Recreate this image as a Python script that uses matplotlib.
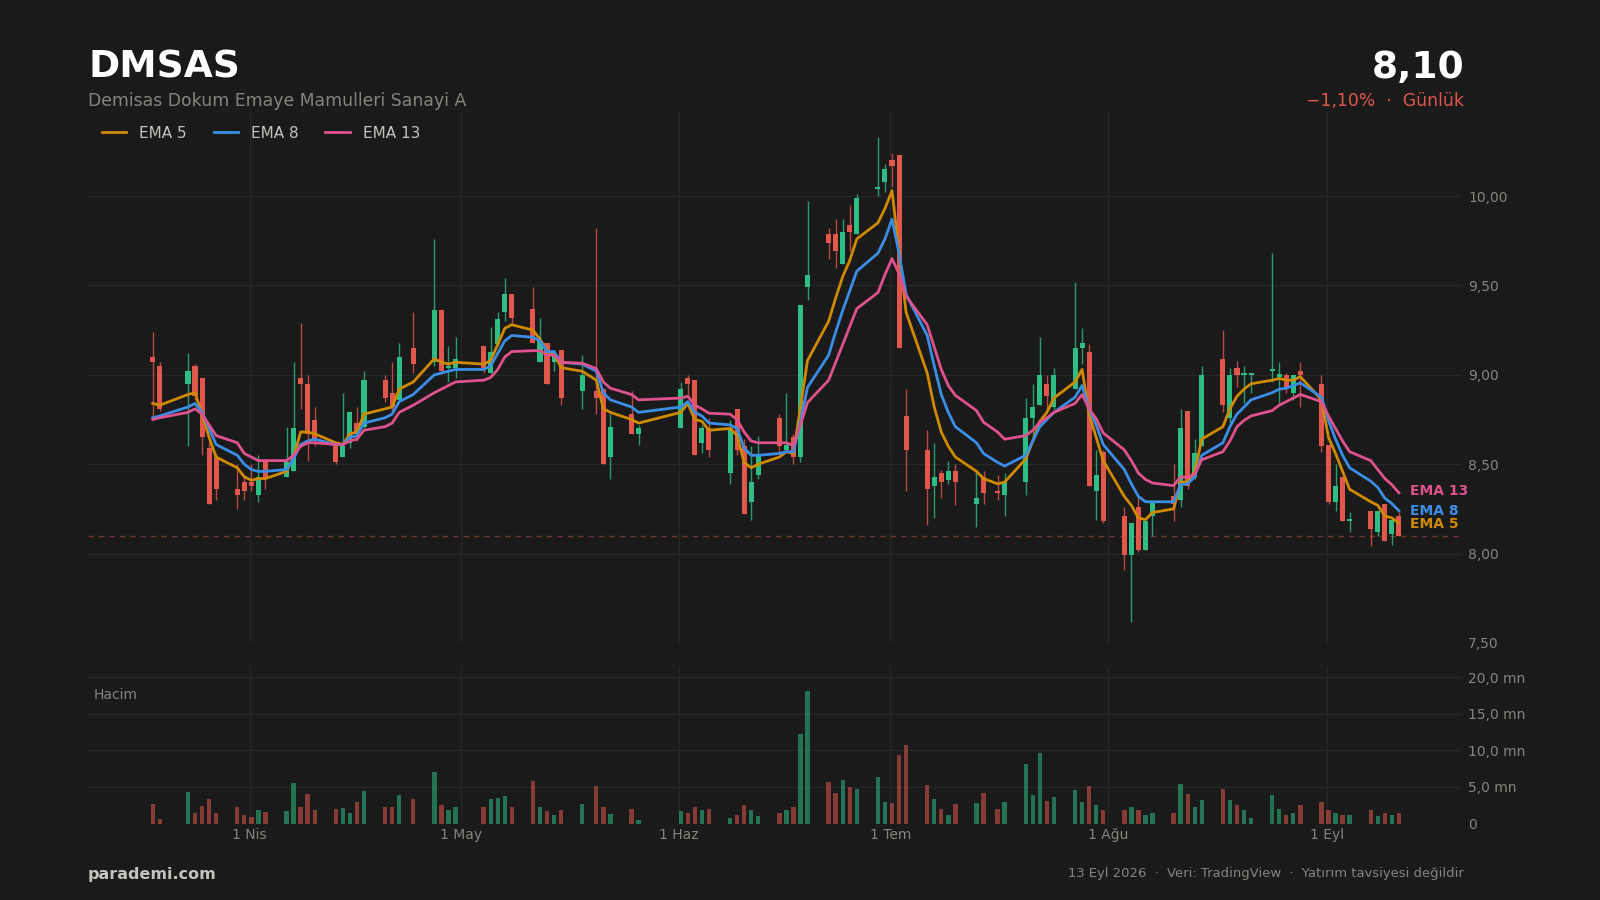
import datetime as dt
import matplotlib
matplotlib.use("Agg")
import matplotlib.pyplot as plt
import matplotlib.dates as mdates

DATES = """2026-03-18 2026-03-19 2026-03-23 2026-03-24 2026-03-25 2026-03-26 2026-03-27 2026-03-30 2026-03-31 2026-04-01
2026-04-02 2026-04-03 2026-04-06 2026-04-07 2026-04-08 2026-04-09 2026-04-10 2026-04-13 2026-04-14 2026-04-15
2026-04-16 2026-04-17 2026-04-20 2026-04-21 2026-04-22 2026-04-24 2026-04-27 2026-04-28 2026-04-29 2026-04-30
2026-05-04 2026-05-05 2026-05-06 2026-05-07 2026-05-08 2026-05-11 2026-05-12 2026-05-13 2026-05-14 2026-05-15
2026-05-18 2026-05-20 2026-05-21 2026-05-22 2026-05-25 2026-05-26 2026-06-01 2026-06-02 2026-06-03 2026-06-04
2026-06-05 2026-06-08 2026-06-09 2026-06-10 2026-06-11 2026-06-12 2026-06-15 2026-06-16 2026-06-17 2026-06-18
2026-06-19 2026-06-22 2026-06-23 2026-06-24 2026-06-25 2026-06-26 2026-06-29 2026-06-30 2026-07-01 2026-07-02
2026-07-03 2026-07-06 2026-07-07 2026-07-08 2026-07-09 2026-07-10 2026-07-13 2026-07-14 2026-07-16 2026-07-17
2026-07-20 2026-07-21 2026-07-22 2026-07-23 2026-07-24 2026-07-27 2026-07-28 2026-07-29 2026-07-30 2026-07-31
2026-08-03 2026-08-04 2026-08-05 2026-08-06 2026-08-07 2026-08-10 2026-08-11 2026-08-12 2026-08-13 2026-08-14
2026-08-17 2026-08-18 2026-08-19 2026-08-20 2026-08-21 2026-08-24 2026-08-25 2026-08-26 2026-08-27 2026-08-28
2026-08-31 2026-09-01 2026-09-02 2026-09-03 2026-09-04 2026-09-07 2026-09-08 2026-09-09 2026-09-10 2026-09-11""".split()

OPEN = [9.10,9.05,8.95,9.05,8.98,8.59,8.54,8.36,8.40,8.40,
        8.33,8.52,8.43,8.46,8.98,8.95,8.75,8.61,8.54,8.62,
        8.73,8.71,8.97,8.90,8.86,9.15,9.07,9.36,9.04,9.04,
        9.16,9.01,9.17,9.35,9.45,9.37,9.07,9.18,9.07,9.14,
        8.91,8.91,8.92,8.54,8.78,8.67,8.70,8.98,8.97,8.62,
        8.70,8.45,8.81,8.60,8.29,8.44,8.76,8.58,8.65,8.54,
        9.49,9.79,9.79,9.62,9.84,9.79,10.04,10.08,10.20,10.23,
        8.77,8.58,8.38,8.45,8.41,8.46,8.28,8.43,8.35,8.33,
        8.40,8.76,8.83,8.95,8.82,8.92,9.15,9.13,8.35,8.57,
        8.21,7.99,8.26,8.02,8.21,8.32,8.30,8.80,8.43,8.60,
        9.09,8.76,9.04,9.00,9.00,9.02,8.99,9.00,8.90,9.02,
        8.95,8.61,8.29,8.43,8.18,8.24,8.12,8.28,8.11,8.21]
HIGH = [9.24,9.07,9.12,9.06,8.98,8.63,8.56,8.50,8.43,8.50,
        8.55,8.52,8.71,9.07,9.29,9.00,8.82,8.62,8.90,8.80,
        8.82,9.02,9.00,9.07,9.18,9.35,9.76,9.37,9.16,9.21,
        9.16,9.27,9.35,9.54,9.45,9.49,9.32,9.18,9.14,9.14,
        9.11,9.82,8.92,8.78,8.91,8.72,8.96,9.00,8.97,8.72,
        8.76,8.75,8.81,8.64,8.60,8.66,8.78,8.90,8.67,9.39,
        9.97,9.82,9.87,9.87,9.95,10.01,10.33,10.18,10.24,10.23,
        8.92,8.69,8.62,8.47,8.52,8.50,8.47,8.46,8.44,8.45,
        8.87,8.95,9.21,9.00,9.04,9.52,9.26,9.17,8.58,8.58,
        8.26,8.17,8.32,8.18,8.29,8.50,8.81,8.80,8.64,9.05,
        9.25,9.04,9.08,9.05,9.01,9.68,9.07,9.01,9.00,9.07,
        9.00,8.61,8.50,8.45,8.23,8.24,8.24,8.28,8.19,8.23]
LOW = [8.75,8.80,8.60,8.86,8.55,8.28,8.30,8.25,8.30,8.35,
       8.29,8.36,8.43,8.46,8.81,8.52,8.60,8.50,8.54,8.59,
       8.63,8.70,8.85,8.80,8.85,9.01,9.05,9.02,8.96,8.98,
       9.01,9.01,9.16,9.30,9.28,9.18,9.07,8.95,9.02,8.83,
       8.81,8.78,8.50,8.42,8.67,8.61,8.70,8.87,8.55,8.56,
       8.54,8.39,8.55,8.22,8.19,8.42,8.57,8.58,8.50,8.51,
       9.42,9.65,9.60,9.62,9.69,9.79,10.00,10.02,10.05,9.15,
       8.35,8.16,8.20,8.31,8.39,8.27,8.15,8.28,8.30,8.21,
       8.33,8.65,8.83,8.81,8.81,8.92,9.06,8.38,8.19,8.17,
       7.91,7.62,8.01,8.02,8.10,8.18,8.26,8.36,8.42,8.60,
       8.79,8.73,8.93,8.84,8.90,8.96,8.84,8.90,8.86,8.82,
       8.57,8.28,8.24,8.18,8.12,8.04,8.10,8.07,8.05,8.10]
CLOSE = [9.07,8.81,9.02,8.88,8.65,8.28,8.36,8.33,8.35,8.38,
         8.43,8.42,8.51,8.70,8.95,8.67,8.63,8.51,8.60,8.79,
         8.67,8.97,8.87,8.82,9.10,9.06,9.36,9.02,9.05,9.09,
         9.04,9.13,9.31,9.45,9.32,9.18,9.19,8.95,9.11,8.87,
         9.00,8.87,8.50,8.71,8.67,8.70,8.92,8.95,8.55,8.70,
         8.58,8.70,8.58,8.22,8.40,8.55,8.60,8.61,8.54,9.39,
         9.56,9.74,9.69,9.80,9.80,9.99,10.05,10.15,10.17,9.15,
         8.58,8.36,8.43,8.40,8.46,8.40,8.31,8.34,8.34,8.40,
         8.76,8.82,9.00,8.88,9.00,9.15,9.18,8.38,8.44,8.18,
         7.99,8.17,8.02,8.18,8.29,8.28,8.70,8.38,8.56,9.00,
         8.83,9.00,9.00,9.00,9.01,9.03,9.00,8.93,9.00,9.00,
         8.60,8.29,8.38,8.18,8.19,8.14,8.24,8.07,8.19,8.10]
VOLUME = [2.6,0.6,4.3,1.4,2.4,3.3,1.4,2.2,1.1,0.9,
          1.9,1.6,1.7,5.5,2.3,4.1,1.8,2.0,2.1,1.5,
          2.9,4.5,2.2,2.3,3.9,3.3,7.1,2.5,1.9,2.3,
          2.2,3.3,3.5,3.7,2.2,5.8,2.2,1.7,1.2,1.8,
          2.7,5.1,2.3,1.3,2.0,0.45,1.7,1.5,2.3,1.9,
          2.0,0.8,1.2,2.5,1.8,1.0,1.5,1.9,2.3,12.3,
          18.1,5.7,4.2,6.0,5.0,4.7,6.4,2.9,2.8,9.4,
          10.8,5.2,3.4,2.0,1.1,2.6,2.8,4.2,2.0,3.0,
          8.1,3.9,9.7,3.1,3.6,4.6,2.9,5.1,2.5,1.8,
          1.9,2.3,1.9,1.1,1.4,1.5,5.4,4.0,2.2,3.2,
          4.7,3.2,2.5,1.8,0.7,3.9,2.0,1.2,1.4,2.5,
          2.9,1.8,1.5,1.1,1.1,1.8,1.0,1.5,1.1,1.5]
EMA5 = [8.84,8.83,8.89,8.90,8.78,8.65,8.54,8.48,8.43,8.41,
        8.42,8.42,8.46,8.54,8.68,8.68,8.67,8.62,8.61,8.67,
        8.68,8.78,8.81,8.82,8.92,8.96,9.09,9.07,9.06,9.07,
        9.06,9.08,9.17,9.26,9.28,9.25,9.20,9.13,9.12,9.04,
        9.02,8.97,8.81,8.79,8.75,8.73,8.79,8.84,8.75,8.74,
        8.69,8.70,8.66,8.51,8.48,8.50,8.54,8.57,8.56,8.82,
        9.08,9.30,9.43,9.55,9.64,9.76,9.85,9.93,10.03,9.69,
        9.35,9.01,8.82,8.68,8.60,8.54,8.46,8.42,8.39,8.40,
        8.53,8.63,8.74,8.79,8.87,8.96,9.03,8.78,8.65,8.52,
        8.32,8.27,8.20,8.19,8.23,8.25,8.40,8.40,8.46,8.64,
        8.71,8.81,8.88,8.92,8.95,8.97,8.98,8.97,8.97,8.99,
        8.86,8.65,8.56,8.46,8.36,8.29,8.27,8.21,8.20,8.17]
EMA8 = [8.76,8.77,8.82,8.84,8.79,8.70,8.61,8.55,8.50,8.47,
        8.46,8.46,8.47,8.53,8.61,8.63,8.64,8.61,8.61,8.65,
        8.66,8.73,8.76,8.78,8.85,8.89,9.00,9.01,9.02,9.03,
        9.03,9.05,9.12,9.19,9.22,9.21,9.19,9.13,9.13,9.07,
        9.06,9.02,8.90,8.86,8.82,8.79,8.82,8.85,8.79,8.77,
        8.73,8.72,8.70,8.59,8.55,8.55,8.56,8.57,8.57,8.74,
        8.93,9.11,9.24,9.36,9.47,9.58,9.68,9.76,9.87,9.68,
        9.45,9.22,9.05,8.89,8.79,8.71,8.62,8.56,8.51,8.49,
        8.55,8.63,8.71,8.75,8.79,8.875,8.94,8.81,8.72,8.61,
        8.47,8.39,8.32,8.29,8.29,8.29,8.385,8.39,8.43,8.55,
        8.62,8.71,8.78,8.82,8.86,8.90,8.92,8.925,8.94,8.955,
        8.875,8.745,8.64,8.55,8.48,8.405,8.37,8.31,8.28,8.24]
EMA13 = [8.75,8.76,8.79,8.81,8.78,8.72,8.66,8.62,8.56,8.54,
         8.52,8.52,8.52,8.55,8.60,8.62,8.62,8.61,8.61,8.63,
         8.64,8.69,8.71,8.73,8.79,8.83,8.90,8.92,8.94,8.96,
         8.97,8.985,9.03,9.10,9.13,9.135,9.135,9.11,9.11,9.07,
         9.065,9.035,8.96,8.925,8.89,8.86,8.87,8.88,8.83,8.81,
         8.785,8.78,8.75,8.68,8.63,8.62,8.62,8.62,8.605,8.72,
         8.845,8.97,9.07,9.17,9.27,9.37,9.46,9.56,9.65,9.565,
         9.44,9.28,9.155,9.03,8.94,8.885,8.80,8.735,8.68,8.64,
         8.66,8.69,8.735,8.76,8.79,8.84,8.89,8.81,8.755,8.675,
         8.58,8.52,8.45,8.415,8.395,8.38,8.43,8.425,8.445,8.525,
         8.57,8.63,8.71,8.745,8.77,8.80,8.83,8.85,8.87,8.89,
         8.85,8.77,8.70,8.63,8.57,8.52,8.47,8.42,8.385,8.34]

EMA_NAMES = ["EMA 5", "EMA 8", "EMA 13"]
LAST_PRICE = 8.10
PRICE_TICKS = [7.5, 8.0, 8.5, 9.0, 9.5, 10.0]
PRICE_LABELS = ["7,50", "8,00", "8,50", "9,00", "9,50", "10,00"]
VOLUME_TICKS = [0, 5, 10, 15, 20]
VOLUME_LABELS = ["0", "5,0 mn", "10,0 mn", "15,0 mn", "20,0 mn"]
MONTH_TICKS = ["2026-04-01", "2026-05-01", "2026-06-01", "2026-07-01", "2026-08-01", "2026-09-01"]
MONTH_LABELS = ["1 Nis", "1 May", "1 Haz", "1 Tem", "1 Ağu", "1 Eyl"]

BG = "#1a1a1a"
GRID = "#272727"
UP = "#2dbd85"
DOWN = "#e2574c"
C_EMA = ["#d08a00", "#3b8ee8", "#e0528c"]
MUTED = "#85857f"

plt.rcParams["font.family"] = "DejaVu Sans"
W, H = 1600, 900
fig = plt.figure(figsize=(16, 9), dpi=100, facecolor=BG)


def axes_px(x0, y_top, x1, y_bot):
    return fig.add_axes([x0 / W, 1 - y_bot / H, (x1 - x0) / W, (y_bot - y_top) / H], facecolor=BG)


ax = axes_px(88, 112, 1461, 643)
av = axes_px(88, 667, 1461, 823.5)

num = lambda s: mdates.date2num(dt.date.fromisoformat(s))
x = [num(d) + 0.25 for d in DATES]
month_x = [num(d) for d in MONTH_TICKS]
x0, x1 = month_x[0] - 22.95, month_x[0] + 172.07

for a in (ax, av):
    a.set_xlim(x0, x1)
    for s in a.spines.values():
        s.set_visible(False)
    a.set_axisbelow(True)
    a.grid(True, color=GRID, lw=0.9)
    a.yaxis.tick_right()
    a.set_xticks(month_x)
    a.tick_params(length=0, labelsize=10, labelcolor=MUTED, pad=5)

ax.set_ylim(7.5, 10.47)
ax.set_yticks(PRICE_TICKS, PRICE_LABELS)
ax.tick_params(axis="x", labelbottom=False)
av.set_ylim(0, 21.4)
av.set_yticks(VOLUME_TICKS, VOLUME_LABELS)
av.set_xticks(month_x, MONTH_LABELS)
av.tick_params(axis="x", pad=3.5)

ax.axhline(LAST_PRICE, color=DOWN, alpha=0.45, lw=1.0, ls=(0, (4, 3.5)), zorder=1.5)

BODY_W = 0.72
for xi, o, h, l, c in zip(x, OPEN, HIGH, LOW, CLOSE):
    col = UP if c >= o else DOWN
    ax.vlines(xi, l, h, color=col, lw=1.0, alpha=0.8, zorder=2)
    ax.bar(xi, max(abs(c - o), 0.012), bottom=min(o, c), width=BODY_W, color=col, lw=0, zorder=2.5)

LABEL_SHIFT = [-0.3, 0, 1.2]
for vals, col, name, dy in zip((EMA5, EMA8, EMA13), C_EMA, EMA_NAMES, LABEL_SHIFT):
    ax.plot(x, vals, color=col, lw=2.0, label=name, zorder=3, solid_joinstyle="round")
    ax.annotate(name, (x[-1], vals[-1]), xytext=(8, dy), textcoords="offset points",
                color=col, fontsize=10, fontweight="bold", va="center", ha="left",
                annotation_clip=False)

leg = ax.legend(loc="upper left", ncols=3, frameon=False, fontsize=11, labelcolor="#c4c4bf",
                bbox_to_anchor=(0.0, 1.0), borderaxespad=0.5, handlelength=1.6, columnspacing=1.75,
                handletextpad=0.85)

v_col = [UP if c >= o else DOWN for o, c in zip(OPEN, CLOSE)]
av.bar(x, VOLUME, width=0.62, color=v_col, alpha=0.55, lw=0, zorder=2)


def t(px, py, s, **k):
    fig.text(px / W, 1 - py / H, s, **k)


t(94, 695, "Hacim", color=MUTED, fontsize=10, va="center", ha="left")
t(88, 68, "DMSAS", color="#ffffff", fontsize=27, fontweight="bold", va="center", ha="left")
t(1464, 68, "8,10", color="#ffffff", fontsize=27, fontweight="bold", va="center", ha="right")
t(88, 101, "Demisas Dokum Emaye Mamulleri Sanayi A", color=MUTED, fontsize=12.43, va="center", ha="left")
t(1464, 101, "−1,10%  ·  Günlük", color=DOWN, fontsize=12.43, va="center", ha="right")
t(88, 874, "parademi.com", color="#c4c4bf", fontsize=11.5, fontweight="bold", va="center", ha="left")
t(1464, 874, "13 Eyl 2026  ·  Veri: TradingView  ·  Yatırım tavsiyesi değildir",
  color=MUTED, fontsize=9.47, va="center", ha="right")

fig.savefig("out.png", dpi=100, facecolor=BG)
